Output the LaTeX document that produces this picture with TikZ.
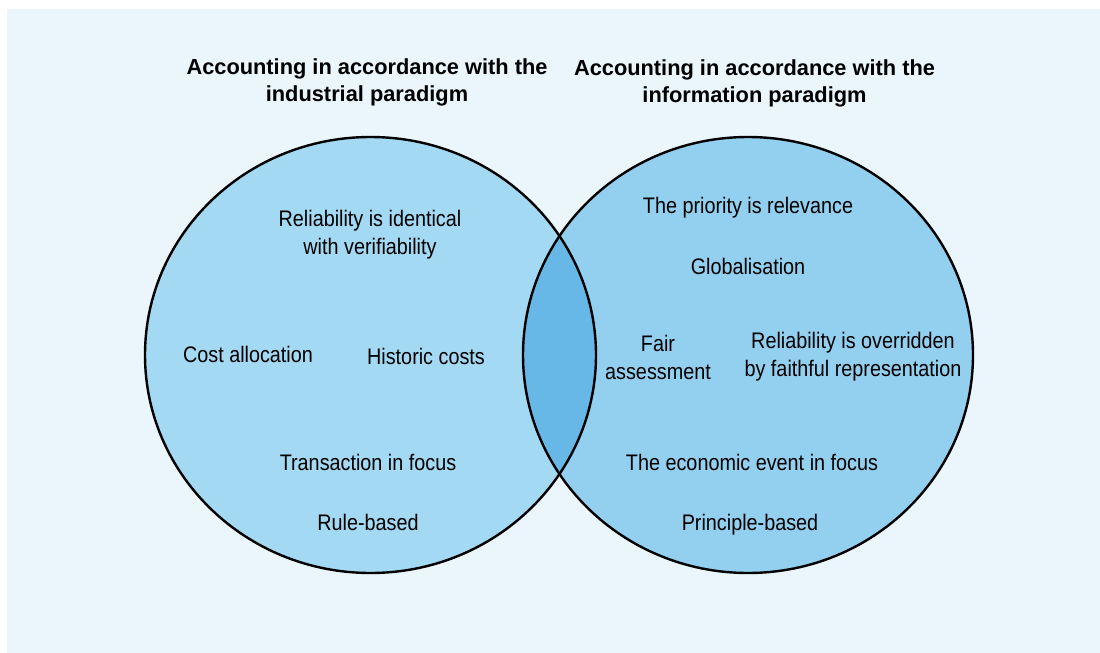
\documentclass[tikz,border=0pt]{standalone}
\usepackage{fontspec}
\setmainfont{Liberation Sans}
\newfontfamily\condfont[FakeStretch=0.88]{Liberation Sans}
\usetikzlibrary{positioning}
\definecolor{paleback}{RGB}{234,245,252}
\definecolor{leftblue}{RGB}{163,217,243}
\definecolor{rightblue}{RGB}{147,208,240}
\definecolor{lensblue}{RGB}{103,184,230}

\begin{document}
\begin{tikzpicture}[x=1pt, y=-1pt]
    \tikzset{
        heading/.style = {align=center, inner sep=0pt, font=\bfseries\fontsize{21.8}{27}\selectfont},
        item/.style = {align=center, inner sep=0pt, font=\condfont\fontsize{22.5}{28}\selectfont},
        ring/.style = {draw=black, line width=2.4pt},
    }
    \useasboundingbox (0,0) rectangle (1100,653);
    \fill[paleback] (7,9) rectangle (1100,653);

    % the two sets
    \fill[leftblue] (370.5,355) ellipse [x radius=225.5, y radius=218];
    \fill[rightblue] (748,355) ellipse [x radius=225, y radius=218];
    \begin{scope}
        \clip (370.5,355) ellipse [x radius=225.5, y radius=218];
        \fill[lensblue] (748,355) ellipse [x radius=225, y radius=218];
    \end{scope}
    \draw[ring] (370.5,355) ellipse [x radius=225.5, y radius=218];
    \draw[ring] (748,355) ellipse [x radius=225, y radius=218];

    % headings
    \node (industrial) [heading] at (367,82.5) {Accounting in accordance with the\\industrial paradigm};
    \node (information) [heading] at (754.5,83.5) {Accounting in accordance with the\\information paradigm};

    % industrial paradigm
    \node (verif) [item] at (370,235) {Reliability is identical\\with verifiability};
    \node (alloc) [item] at (248,354) {Cost allocation};
    \node (historic) [item] at (426,356) {Historic costs};
    \node (transaction) [item] at (368,462) {Transaction in focus};
    \node (rule) [item] at (368,522) {Rule-based};

    % information paradigm
    \node (relevance) [item] at (748,207.5) {The priority is relevance};
    \node (global) [item] at (748,266) {Globalisation};
    \node (fair) [item] at (658,357) {Fair\\assessment};
    \node (faithful) [item] at (853,357) {Reliability is overridden\\by faithful representation};
    \node (event) [item] at (752,462) {The economic event in focus};
    \node (principle) [item] at (750,524.5) {Principle-based};
\end{tikzpicture}
\end{document}
